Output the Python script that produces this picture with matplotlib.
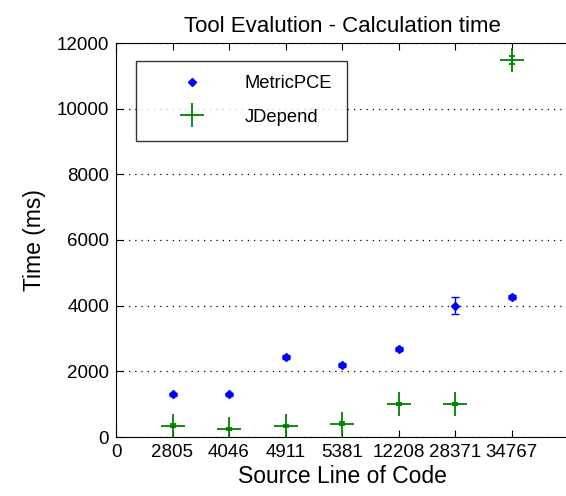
import numpy as np
import matplotlib
matplotlib.use("Agg")
import matplotlib.pyplot as plt
from matplotlib.lines import Line2D

plt.rcParams["font.family"] = ["Liberation Sans", "DejaVu Sans"]

# source lines of code (categorical x axis)
sloc_labels = ["0", "2805", "4046", "4911", "5381", "12208", "28371", "34767"]

# calculation time (ms)
metricpce_ms = [1300, 1300, 2450, 2180, 2680, 4000, 4260]
metricpce_err = [50, 50, 60, 60, 60, 250, 60]
jdepend_ms = [350, 230, 330, 410, 1000, 1000, 11480]
jdepend_err = [40, 30, 30, 40, 30, 30, 120]

x = np.arange(1, len(metricpce_ms) + 1)

fig = plt.figure(figsize=(5.66, 4.96), dpi=100)
ax = fig.add_axes([116 / 566, (496 - 437) / 496, 452 / 566, (437 - 43) / 496])

ax.errorbar(x, metricpce_ms, yerr=metricpce_err, fmt="D", color="blue",
            markersize=4, capsize=3, elinewidth=1)
ax.errorbar(x, jdepend_ms, yerr=jdepend_err, fmt="+", color="green",
            markersize=17, markeredgewidth=1.3, capsize=2, elinewidth=1)

ax.set_xlim(0, 8)
ax.set_ylim(0, 12000)
ax.set_xticks(np.arange(len(sloc_labels)))
ax.set_xticklabels(sloc_labels)
ax.set_yticks(np.arange(0, 12001, 2000))
ax.yaxis.grid(True, linestyle=(0, (1, 4)), color="black", linewidth=0.9)
ax.tick_params(direction="in", top=True, length=5, labelsize=13.5, pad=5)
ax.spines["right"].set_visible(False)

ax.set_title("Tool Evalution - Calculation time", fontsize=16, pad=8)
ax.set_xlabel("Source Line of Code", fontsize=16.5, labelpad=3)
ax.set_ylabel("Time (ms)", fontsize=16.5, labelpad=8)

handles = [
    Line2D([], [], linestyle="none", marker="D", markersize=4, color="blue"),
    Line2D([], [], linestyle="none", marker="+", markersize=17,
           markeredgewidth=1.3, color="green"),
]
leg = ax.legend(handles, ["MetricPCE", "JDepend"], loc="upper left",
                bbox_to_anchor=(0.045, 0.955), fontsize=13.2,
                fancybox=False, edgecolor="black", borderpad=0.8,
                labelspacing=0.9, handlelength=4.5, handletextpad=0.6,
                borderaxespad=0)
leg.get_frame().set_linewidth(1)

fig.savefig("out.png", dpi=100)
